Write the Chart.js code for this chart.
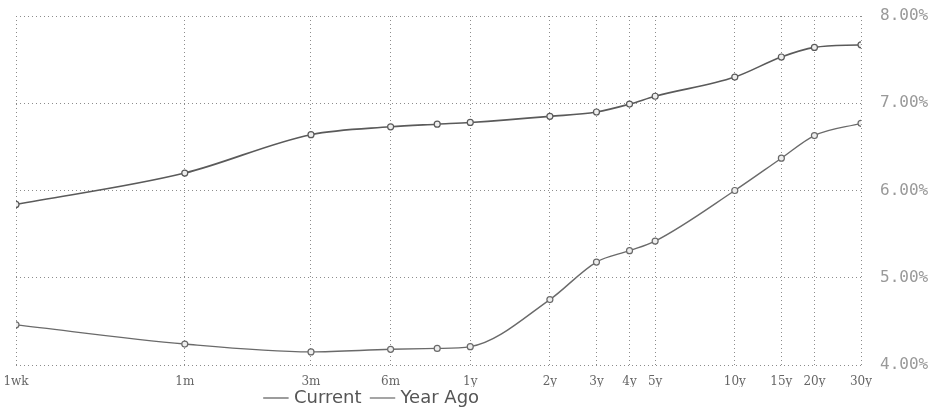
<!DOCTYPE html>
<html>
<head>
<meta charset="utf-8">
<script src="https://cdn.jsdelivr.net/npm/chart.js@4/dist/chart.umd.min.js"></script>
<style>
  html, body { margin: 0; padding: 0; background: #fff; }
  #wrap { width: 946px; height: 410px; position: relative; }
</style>
</head>
<body>
<div id="wrap"><canvas id="curveChart"></canvas></div>
<script>
// maturities in years (9m has a point but no label)
const maturities = [7 / 365, 1 / 12, 0.25, 0.5, 0.75, 1, 2, 3, 4, 5, 10, 15, 20, 30];
const current = [5.84, 6.20, 6.64, 6.73, 6.76, 6.78, 6.85, 6.90, 6.99, 7.08, 7.30, 7.53, 7.64, 7.67];
const yearAgo = [4.46, 4.24, 4.15, 4.18, 4.19, 4.21, 4.75, 5.18, 5.31, 5.42, 6.00, 6.37, 6.63, 6.77];

const tickYears = [7 / 365, 1 / 12, 0.25, 0.5, 1, 2, 3, 4, 5, 10, 15, 20, 30];
const tickLabels = ['1wk', '1m', '3m', '6m', '1y', '2y', '3y', '4y', '5y', '10y', '15y', '20y', '30y'];

const toPoints = (vals) => vals.map((v, i) => ({ x: maturities[i], y: v }));

// legend: fixed height, and nudged left/up (the scan has it off-centre)
const legendTweak = {
  id: 'legendTweak',
  afterInit(chart) {
    const lg = chart.legend;
    const fit = lg.fit;
    lg.fit = function () {
      fit.call(this);
      this.height = 23;
    };
  },
  afterLayout(chart) {
    const lg = chart.legend;
    lg.left -= 108;
    lg.right -= 108;
    lg.top -= 10;
    lg.bottom = chart.height;
  }
};

const gridStyle = {
  color: '#8c8c8c',
  lineWidth: 1,
  drawTicks: false
};

const noPad = (axis) => {
  axis.paddingTop = 0;
  axis.paddingBottom = 0;
  axis.paddingLeft = 0;
  axis.paddingRight = 0;
};

new Chart(document.getElementById('curveChart').getContext('2d'), {
  type: 'line',
  data: {
    datasets: [
      {
        label: 'Current',
        data: toPoints(current),
        borderColor: '#5a5a5a',
        backgroundColor: '#eee',
        pointBorderColor: '#5a5a5a',
        pointRadius: 3,
        pointBorderWidth: 1.2,
        borderWidth: 1.6,
        cubicInterpolationMode: 'monotone'
      },
      {
        label: 'Year Ago',
        data: toPoints(yearAgo),
        borderColor: '#6a6a6a',
        backgroundColor: '#eee',
        pointBorderColor: '#6a6a6a',
        pointRadius: 3,
        pointBorderWidth: 1.2,
        borderWidth: 1.4,
        cubicInterpolationMode: 'monotone'
      }
    ]
  },
  options: {
    responsive: true,
    maintainAspectRatio: false,
    animation: false,
    layout: { padding: { left: 16, top: 16, right: 0, bottom: 0 } },
    scales: {
      x: {
        type: 'logarithmic',
        min: 7 / 365,
        max: 30,
        afterBuildTicks: (axis) => {
          axis.ticks = tickYears.map(v => ({ value: v }));
        },
        afterFit: (axis) => { axis.height = 22; noPad(axis); },
        ticks: {
          autoSkip: false,
          maxRotation: 0,
          minRotation: 0,
          padding: 10,
          color: '#666',
          font: { family: 'DejaVu Serif', size: 12 },
          callback: (v, i) => tickLabels[i]
        },
        grid: gridStyle,
        border: { display: false, dash: [1, 3] }
      },
      y: {
        position: 'right',
        min: 4,
        max: 8,
        afterFit: (axis) => { axis.width = 85; noPad(axis); },
        ticks: {
          stepSize: 1,
          padding: 19,
          color: '#999',
          font: { family: 'DejaVu Sans Mono', size: 16 },
          callback: (v) => v.toFixed(2) + '%'
        },
        grid: gridStyle,
        border: { display: false, dash: [1, 3] }
      }
    },
    plugins: {
      legend: {
        position: 'bottom',
        labels: {
          usePointStyle: true,
          pointStyle: 'line',
          boxWidth: 22,
          padding: 12,
          color: '#555',
          font: { family: 'DejaVu Sans', size: 18 }
        }
      },
      tooltip: { enabled: false }
    }
  },
  plugins: [legendTweak]
});
</script>
</body>
</html>
